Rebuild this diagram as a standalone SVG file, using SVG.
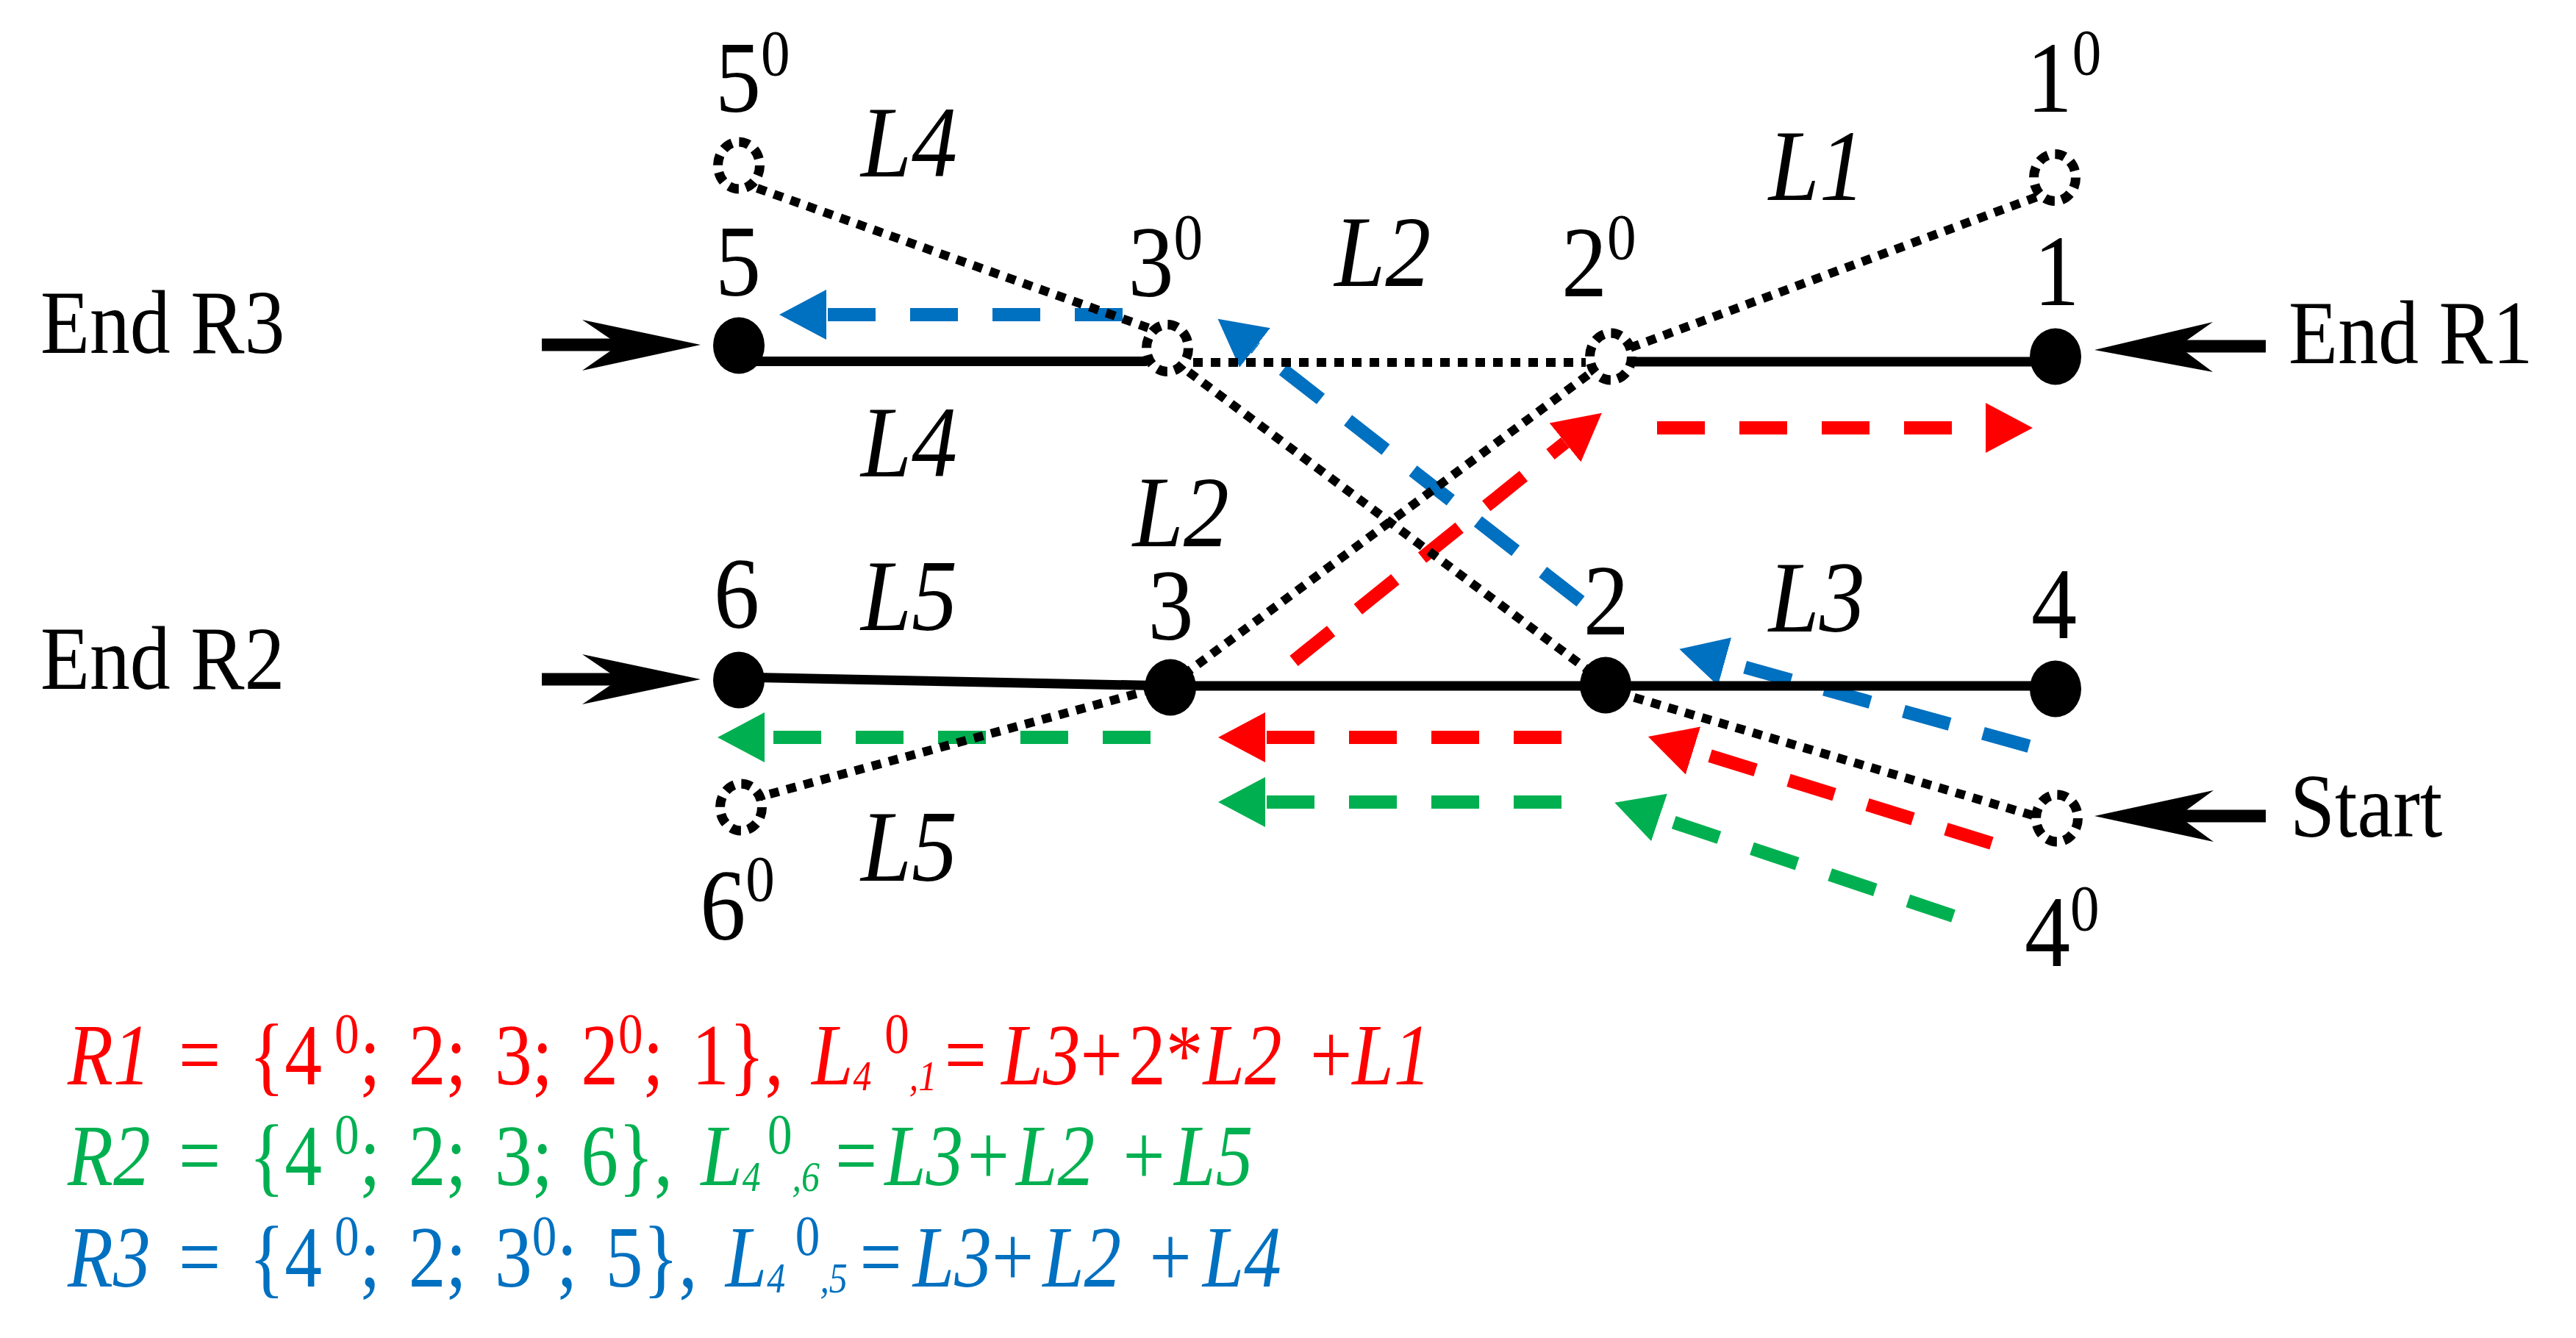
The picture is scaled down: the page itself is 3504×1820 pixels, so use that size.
<svg xmlns="http://www.w3.org/2000/svg" width="3504" height="1820" viewBox="0 0 3504 1820">
<defs>
<style>
text{font-family:"Liberation Serif","Times New Roman",serif;fill:#000}
.lab{font-size:138px}
.it{font-style:italic}
.sup{font-size:88px}
.end{font-size:122px}
.fm{font-size:118px;word-spacing:15px}
.fs{font-size:78px}
.fb{font-size:58px}
.solid{stroke:#000;stroke-width:13;fill:none}
.dot{stroke:#000;stroke-width:12;stroke-dasharray:13 11;fill:none}
.dn{fill:#fff;stroke:#000;stroke-width:13;stroke-dasharray:14 9.8}
.fn{fill:#000}
.dr{stroke-width:18;stroke-dasharray:65 47;fill:none}
.red{stroke:#FF0000}
.grn{stroke:#00B050}
.blu{stroke:#0070C0}
.shaft{stroke:#000;stroke-width:17}
.hd{fill:#000}
</style>
<marker id="hR" markerUnits="userSpaceOnUse" viewBox="0 -35 66 70" refX="0" refY="0" markerWidth="66" markerHeight="70" orient="auto"><path d="M0,-34L64,0L0,34z" fill="#FF0000"/></marker>
<marker id="hG" markerUnits="userSpaceOnUse" viewBox="0 -35 66 70" refX="0" refY="0" markerWidth="66" markerHeight="70" orient="auto"><path d="M0,-34L64,0L0,34z" fill="#00B050"/></marker>
<marker id="hB" markerUnits="userSpaceOnUse" viewBox="0 -35 66 70" refX="0" refY="0" markerWidth="66" markerHeight="70" orient="auto"><path d="M0,-34L64,0L0,34z" fill="#0070C0"/></marker>
</defs>
<rect width="3504" height="1820" fill="#fff"/>

<g id="connectors">
  <g id="route-arrows">
    <path class="dr blu" d="M1527,428 L1124,428" marker-end="url(#hB)"/>
    <path class="dr blu" d="M2150,818 L1707,473" marker-end="url(#hB)"/>
    <path class="dr blu" d="M2760,1015 L2346,900" marker-end="url(#hB)"/>
    <path class="dr red" d="M1760,899 L2129,602" marker-end="url(#hR)"/>
    <path class="dr red" d="M2254,582 L2701,582" marker-end="url(#hR)"/>
    <path class="dr red" d="M2124,1003 L1721,1003" marker-end="url(#hR)"/>
    <path class="dr red" d="M2709,1147 L2303,1021" marker-end="url(#hR)"/>
    <path class="dr grn" d="M1565,1003 L1040,1003" marker-end="url(#hG)"/>
    <path class="dr grn" d="M2124,1091 L1721,1091" marker-end="url(#hG)"/>
    <path class="dr grn" d="M2657,1246 L2257,1112" marker-end="url(#hG)"/>
  </g>
  <path class="solid" d="M1005,491.5 L1560,491.5"/>
  <path class="solid" d="M2218,492 L2796,492"/>
  <path class="solid" d="M1005,921 L1592,933 L2796,933"/>
  <path class="dot" d="M1030,256 L1562,446"/>
  <path class="dot" d="M1617,506 L2165,915"/>
  <path class="dot" d="M1623,493 L2157,493"/>
  <path class="dot" d="M2770,268 L2215,474"/>
  <path class="dot" d="M2160,510 L1610,918"/>
  <path class="dot" d="M1592,931 L1033,1084"/>
  <path class="dot" d="M2200,942 L2768,1110"/>
  <path class="shaft" d="M737,469 L850,469"/>
  <polygon class="hd" points="953,469 792,435 842,469 792,504"/>
  <path class="shaft" d="M737,924 L850,924"/>
  <polygon class="hd" points="953,924 792,890 842,924 792,958"/>
  <path class="shaft" d="M2955,471 L3082,471"/>
  <polygon class="hd" points="2849,476 3010,438 2963,471 3010,506"/>
  <path class="shaft" d="M2955,1110 L3082,1110"/>
  <polygon class="hd" points="2849,1110 3011,1075 2963,1110 3011,1145"/>
</g>

<g id="node-5"><ellipse class="fn" cx="1005" cy="470" rx="35" ry="38.5"/><text class="lab" transform="scale(0.9 1)" x="1081" y="402">5</text></g>
<g id="node-1"><ellipse class="fn" cx="2796" cy="485" rx="35" ry="38.5"/><text class="lab" transform="scale(0.9 1)" x="3074" y="415">1</text></g>
<g id="node-6"><ellipse class="fn" cx="1005" cy="925" rx="35" ry="38.5"/><text class="lab" transform="scale(0.9 1)" x="1079" y="854">6</text></g>
<g id="node-3"><ellipse class="fn" cx="1592" cy="935" rx="35" ry="38.5"/><text class="lab" transform="scale(0.9 1)" x="1735" y="870">3</text></g>
<g id="node-2"><ellipse class="fn" cx="2184" cy="932" rx="35" ry="38.5"/><text class="lab" transform="scale(0.9 1)" x="2393" y="863">2</text></g>
<g id="node-4"><ellipse class="fn" cx="2796" cy="937" rx="35" ry="38.5"/><text class="lab" transform="scale(0.9 1)" x="3070" y="868">4</text></g>

<g id="node-5-0"><ellipse class="dn" cx="1005" cy="225" rx="28.5" ry="32"/><text class="lab" transform="scale(0.9 1)" x="1081" y="152">5<tspan class="sup" y="102">0</tspan></text></g>
<g id="node-1-0"><ellipse class="dn" cx="2795" cy="241.5" rx="28.5" ry="32"/><text class="lab" transform="scale(0.9 1)" x="3063" y="152">1<tspan class="sup" y="101">0</tspan></text></g>
<g id="node-3-0"><ellipse class="dn" cx="1588" cy="473.5" rx="28.5" ry="32"/><text class="lab" transform="scale(0.9 1)" x="1705" y="403">3<tspan class="sup" y="352">0</tspan></text></g>
<g id="node-2-0"><ellipse class="dn" cx="2191" cy="485" rx="28.5" ry="32"/><text class="lab" transform="scale(0.9 1)" x="2360" y="403">2<tspan class="sup" y="352">0</tspan></text></g>
<g id="node-6-0"><ellipse class="dn" cx="1008" cy="1098" rx="28.5" ry="32"/><text class="lab" transform="scale(0.9 1)" x="1058" y="1278">6<tspan class="sup" y="1225">0</tspan></text></g>
<g id="node-4-0"><ellipse class="dn" cx="2798" cy="1113" rx="28.5" ry="32"/><text class="lab" transform="scale(0.9 1)" x="3060" y="1314">4<tspan class="sup" y="1265">0</tspan></text></g>

<g id="edge-labels" transform="scale(0.9 1)">
  <text class="lab it" x="1301" y="240">L4</text>
  <text class="lab it" x="2673" y="272">L1</text>
  <text class="lab it" x="2017" y="389">L2</text>
  <text class="lab it" x="1301" y="648">L4</text>
  <text class="lab it" x="1712" y="743">L2</text>
  <text class="lab it" x="1301" y="857">L5</text>
  <text class="lab it" x="2673" y="859">L3</text>
  <text class="lab it" x="1301" y="1198">L5</text>
</g>

<g id="end-labels" transform="scale(0.9 1)">
  <text class="end" x="61" y="480">End R3</text>
  <text class="end" x="61" y="937">End R2</text>
  <text class="end" x="3459" y="494">End R1</text>
  <text class="end" x="3461" y="1138">Start</text>
</g>

<g id="formulas" transform="scale(0.86 1)">
  <text class="fm" style="fill:#FF0000"><tspan class="it" x="107" y="1475">R1 </tspan><tspan>= {4</tspan><tspan class="fs" x="529" y="1432">0</tspan><tspan x="569" y="1475">; 2; 3; 2</tspan><tspan class="fs" y="1432">0</tspan><tspan y="1475">; 1}, </tspan><tspan class="it">L</tspan><tspan class="it fb" y="1483">4</tspan><tspan class="fs" x="1399" y="1432">0</tspan><tspan class="it fb" y="1483">,1</tspan><tspan x="1494" y="1475">=</tspan><tspan class="it" x="1584">L3</tspan><tspan>+</tspan><tspan x="1785">2*</tspan><tspan class="it">L2 </tspan><tspan>+</tspan><tspan class="it">L1</tspan></text>
  <text class="fm" style="fill:#00B050"><tspan class="it" x="107" y="1612">R2 </tspan><tspan>= {4</tspan><tspan class="fs" x="529" y="1569">0</tspan><tspan x="569" y="1612">; 2; 3; 6}, </tspan><tspan class="it">L</tspan><tspan class="it fb" y="1620">4</tspan><tspan class="fs" x="1214" y="1569">0</tspan><tspan class="it fb" y="1620">,6</tspan><tspan x="1321" y="1612">=</tspan><tspan class="it" x="1399">L3</tspan><tspan x="1530">+</tspan><tspan class="it" x="1607">L2 </tspan><tspan>+</tspan><tspan class="it" x="1857">L5</tspan></text>
  <text class="fm" style="fill:#0070C0"><tspan class="it" x="107" y="1750">R3 </tspan><tspan>= {4</tspan><tspan class="fs" x="529" y="1707">0</tspan><tspan x="569" y="1750">; 2; 3</tspan><tspan class="fs" y="1707">0</tspan><tspan y="1750">; 5}, </tspan><tspan class="it">L</tspan><tspan class="it fb" y="1758">4</tspan><tspan class="fs" x="1258" y="1707">0</tspan><tspan class="it fb" y="1758">,5</tspan><tspan x="1360" y="1750">=</tspan><tspan class="it" x="1444">L3</tspan><tspan>+</tspan><tspan class="it" x="1649">L2 </tspan><tspan>+</tspan><tspan class="it" x="1902">L4</tspan></text>
</g>
</svg>
